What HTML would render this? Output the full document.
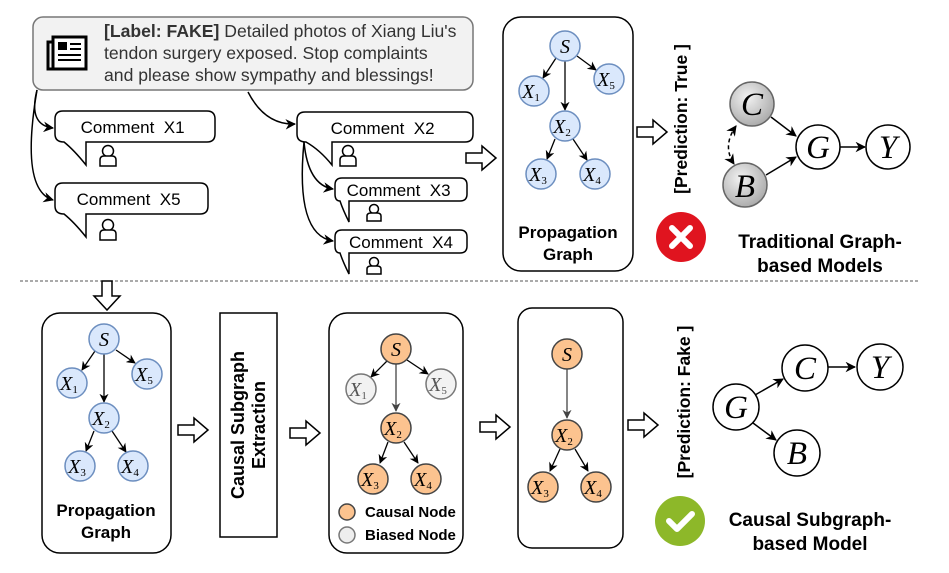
<!DOCTYPE html>
<html><head><meta charset="utf-8"><style>
html,body{margin:0;padding:0;background:#fff;}
svg{display:block;}
.t{font-family:"Liberation Sans",sans-serif;}
.m{font-family:"Liberation Serif",serif;font-style:italic;}
</style></head><body>
<svg width="949" height="573" viewBox="0 0 949 573" xmlns="http://www.w3.org/2000/svg">
<defs>
<marker id="ah" viewBox="0 0 10 10" refX="9" refY="5" markerWidth="7" markerHeight="7" orient="auto-start-reverse"><path d="M0,0 L10,5 L0,10 L3,5 z" fill="#000"/></marker>
<marker id="ahg" viewBox="0 0 10 10" refX="9" refY="5" markerWidth="7" markerHeight="7" orient="auto"><path d="M0,0 L10,5 L0,10 L3,5 z" fill="#444"/></marker>
<radialGradient id="gg" cx="40%" cy="35%" r="70%"><stop offset="0" stop-color="#f2f2f2"/><stop offset="1" stop-color="#a8a8a8"/></radialGradient>
<g id="person"><circle cx="0" cy="-5" r="5.5" fill="#fff" stroke="#000" stroke-width="1.5"/><path d="M-8,10 V4 Q-8,0 -4,0 H4 Q8,0 8,4 V10 Z" fill="#fff" stroke="#000" stroke-width="1.5"/></g>
<g id="personS"><circle cx="0" cy="-4" r="4.5" fill="#fff" stroke="#000" stroke-width="1.5"/><path d="M-7,8 V3 Q-7,0 -3,0 H3 Q7,0 7,3 V8 Z" fill="#fff" stroke="#000" stroke-width="1.5"/></g>
<g id="harrow"><path d="M0,-5 H16 V-12 L30,0 L16,12 V5 H0 Z" fill="#fff" stroke="#000" stroke-width="1.5"/></g>
</defs>

<rect x="33" y="17" width="440" height="73" rx="10" fill="#f2f2f2" stroke="#777" stroke-width="1.5"/>
<g transform="translate(47,37)">
<rect x="6" y="0" width="33" height="32" fill="#fff" stroke="#000" stroke-width="3"/>
<path d="M6,5 H1 V32 H6" fill="none" stroke="#000" stroke-width="3"/>
<rect x="11" y="5" width="9" height="8" fill="#000"/>
<line x1="23" y1="7" x2="34" y2="7" stroke="#000" stroke-width="2"/>
<line x1="23" y1="12" x2="34" y2="12" stroke="#000" stroke-width="2"/>
<line x1="11" y1="18" x2="34" y2="18" stroke="#000" stroke-width="2"/>
<line x1="11" y1="23" x2="34" y2="23" stroke="#000" stroke-width="2"/>
</g>
<text class="t" font-size="17.6" fill="#333"><tspan x="104" y="37"><tspan font-weight="bold">[Label: FAKE]</tspan> Detailed photos of Xiang Liu's</tspan><tspan x="104" y="59">tendon surgery exposed. Stop complaints</tspan><tspan x="104" y="81">and please show sympathy and blessings!</tspan></text>

<g fill="#fff" stroke="#000" stroke-width="1.5">
<path d="M63,111 H207 Q215,111 215,119 V134 Q215,142 207,142 H86 V165 Q74,150 64,142 Q55,142 55,134 V119 Q55,111 63,111 Z"/>
<path d="M63,183 H200 Q208,183 208,191 V206 Q208,214 200,214 H86 V237 Q74,222 64,214 Q55,214 55,206 V191 Q55,183 63,183 Z"/>
<path d="M305,112 H465 Q473,112 473,120 V134 Q473,142 465,142 H332 V165 Q320,150 306,142 Q297,142 297,134 V120 Q297,112 305,112 Z"/>
<path d="M342,178 H460 Q467,178 467,185 V194 Q467,201 460,201 H349 V222 Q343,210 340,201 Q335,201 335,194 V185 Q335,178 342,178 Z"/>
<path d="M342,230 H460 Q467,230 467,237 V246 Q467,253 460,253 H349 V274 Q343,262 340,253 Q335,253 335,246 V237 Q335,230 342,230 Z"/>
</g>
<text class="t" font-size="17" fill="#000" text-anchor="middle">
<tspan x="135" y="133">Comment&#160; X1</tspan>
<tspan x="131" y="205">Comment&#160; X5</tspan>
<tspan x="385" y="134">Comment&#160; X2</tspan>
<tspan x="401" y="196">Comment&#160; X3</tspan>
<tspan x="401" y="248">Comment&#160; X4</tspan>
</text>
<use href="#person" x="108" y="156"/>
<use href="#person" x="108" y="230"/>
<use href="#person" x="348" y="156"/>
<use href="#personS" x="374" y="213"/>
<use href="#personS" x="374" y="266"/>

<g fill="none" stroke="#000" stroke-width="1.5" marker-end="url(#ah)">
<path d="M37,90 Q28,125 53,128"/>
<path d="M37,90 Q20,190 53,200"/>
<path d="M248,92 Q265,125 295,124"/>
<path d="M304,142 Q308,185 333,189"/>
<path d="M304,142 Q295,235 333,241"/>
</g>

<use href="#harrow" x="466" y="158"/>

<rect x="503" y="17" width="130" height="254" rx="18" fill="#fff" stroke="#000" stroke-width="1.5"/>
<g stroke="#000" stroke-width="1.3" marker-end="url(#ah)">
<line x1="556" y1="58" x2="543" y2="78"/>
<line x1="577" y1="56" x2="596" y2="70"/>
<line x1="565" y1="61" x2="565" y2="110"/>
<line x1="555" y1="139" x2="547" y2="159"/>
<line x1="573" y1="139" x2="587" y2="160"/>
</g>
<g fill="#dae8fc" stroke="#6c8ebf" stroke-width="1.5">
<circle cx="565" cy="46" r="15"/><circle cx="534" cy="91" r="15"/><circle cx="609" cy="79" r="15"/>
<circle cx="565" cy="126" r="15"/><circle cx="541" cy="174" r="15"/><circle cx="595" cy="174" r="15"/>
</g>
<g class="m" font-size="20" fill="#000" text-anchor="middle">
<text x="565" y="53">S</text>
<text x="531" y="98">X<tspan font-size="11" font-style="normal" dy="3">1</tspan></text>
<text x="606" y="86">X<tspan font-size="11" font-style="normal" dy="3">5</tspan></text>
<text x="562" y="133">X<tspan font-size="11" font-style="normal" dy="3">2</tspan></text>
<text x="538" y="181">X<tspan font-size="11" font-style="normal" dy="3">3</tspan></text>
<text x="592" y="181">X<tspan font-size="11" font-style="normal" dy="3">4</tspan></text>
</g>
<text class="t" font-size="17" font-weight="bold" text-anchor="middle"><tspan x="568" y="238">Propagation</tspan><tspan x="568" y="260">Graph</tspan></text>

<use href="#harrow" x="637" y="132"/>
<text class="t" font-size="17.5" font-weight="bold" text-anchor="middle" transform="translate(687,119) rotate(-90)">[Prediction: True ]</text>
<circle cx="681" cy="237" r="25" fill="#e0141f"/>
<path d="M672,228 L690,246 M690,228 L672,246" stroke="#fff" stroke-width="6" stroke-linecap="round"/>

<g stroke="#000" stroke-width="1.5" fill="none">
<line x1="771" y1="117" x2="796" y2="136" marker-end="url(#ah)"/>
<line x1="766" y1="175" x2="796" y2="157" marker-end="url(#ah)"/>
<line x1="840" y1="147" x2="865" y2="147" marker-end="url(#ah)"/>
<path d="M736,126 Q722,146 734,164" stroke-dasharray="4,3" marker-end="url(#ah)" marker-start="url(#ah)"/>
</g>
<circle cx="752" cy="104" r="22" fill="url(#gg)" stroke="#666" stroke-width="1.5"/>
<circle cx="745" cy="185" r="22" fill="url(#gg)" stroke="#666" stroke-width="1.5"/>
<circle cx="818" cy="147" r="22" fill="#fff" stroke="#000" stroke-width="1.5"/>
<circle cx="888" cy="147" r="22" fill="#fff" stroke="#000" stroke-width="1.5"/>
<g class="m" font-size="33" text-anchor="middle">
<text x="752" y="115">C</text><text x="745" y="197">B</text><text x="818" y="158">G</text><text x="888" y="158">Y</text>
</g>
<text class="t" font-size="19" font-weight="bold" text-anchor="middle"><tspan x="820" y="248">Traditional Graph-</tspan><tspan x="820" y="272">based Models</tspan></text>

<line x1="20" y1="281" x2="920" y2="281" stroke="#555" stroke-width="1" stroke-dasharray="3,2"/>

<path d="M102,281 H112 V296 H120 L107,310 L94,296 H102 Z" fill="#fff" stroke="#000" stroke-width="1.5"/>

<rect x="42" y="313" width="129" height="240" rx="18" fill="#fff" stroke="#000" stroke-width="1.5"/>
<g stroke="#000" stroke-width="1.3" marker-end="url(#ah)">
<line x1="95" y1="351" x2="82" y2="370"/>
<line x1="116" y1="350" x2="135" y2="363"/>
<line x1="104" y1="354" x2="104" y2="402"/>
<line x1="94" y1="431" x2="86" y2="451"/>
<line x1="112" y1="431" x2="126" y2="452"/>
</g>
<g fill="#dae8fc" stroke="#6c8ebf" stroke-width="1.5">
<circle cx="104" cy="339" r="15"/><circle cx="72" cy="383" r="15"/><circle cx="147" cy="374" r="15"/>
<circle cx="104" cy="418" r="15"/><circle cx="80" cy="466" r="15"/><circle cx="133" cy="466" r="15"/>
</g>
<g class="m" font-size="20" text-anchor="middle">
<text x="104" y="346">S</text>
<text x="69" y="390">X<tspan font-size="11" font-style="normal" dy="3">1</tspan></text>
<text x="144" y="381">X<tspan font-size="11" font-style="normal" dy="3">5</tspan></text>
<text x="101" y="425">X<tspan font-size="11" font-style="normal" dy="3">2</tspan></text>
<text x="77" y="473">X<tspan font-size="11" font-style="normal" dy="3">3</tspan></text>
<text x="130" y="473">X<tspan font-size="11" font-style="normal" dy="3">4</tspan></text>
</g>
<text class="t" font-size="17" font-weight="bold" text-anchor="middle"><tspan x="106" y="516">Propagation</tspan><tspan x="106" y="538">Graph</tspan></text>

<use href="#harrow" x="178" y="430"/>
<rect x="220" y="313" width="57" height="224" fill="#fff" stroke="#000" stroke-width="1.5"/>
<text class="t" font-size="18" font-weight="bold" text-anchor="middle" transform="translate(248,425) rotate(-90)"><tspan x="0" y="-4">Causal Subgraph</tspan><tspan x="0" y="17">Extraction</tspan></text>
<use href="#harrow" x="290" y="433"/>

<rect x="329" y="313" width="134" height="240" rx="18" fill="#fff" stroke="#000" stroke-width="1.5"/>
<g stroke="#000" stroke-width="1.3" marker-end="url(#ah)">
<line x1="387" y1="361" x2="371" y2="377"/>
<line x1="407" y1="360" x2="428" y2="374"/>
</g>
<g stroke="#444" stroke-width="1.3"><line x1="396" y1="364" x2="396" y2="411" marker-end="url(#ahg)"/></g>
<g stroke="#000" stroke-width="1.3" marker-end="url(#ah)">
<line x1="388" y1="442" x2="380" y2="463"/>
<line x1="404" y1="442" x2="418" y2="463"/>
</g>
<g stroke="#444" stroke-width="1.5">
<circle cx="396" cy="349" r="15" fill="#fcc38f"/>
<circle cx="361" cy="389" r="15" fill="#f2f2f2" stroke="#777"/>
<circle cx="441" cy="384" r="15" fill="#f2f2f2" stroke="#777"/>
<circle cx="396" cy="428" r="15" fill="#fcc38f"/>
<circle cx="373" cy="479" r="15" fill="#fcc38f"/>
<circle cx="426" cy="479" r="15" fill="#fcc38f"/>
<circle cx="347" cy="512" r="8" fill="#fcc38f"/>
<circle cx="347" cy="535" r="8" fill="#eeeeee" stroke="#777"/>
</g>
<g class="m" font-size="20" text-anchor="middle">
<text x="396" y="356">S</text>
<text x="358" y="396" fill="#555">X<tspan font-size="11" font-style="normal" dy="3">1</tspan></text>
<text x="438" y="391" fill="#555">X<tspan font-size="11" font-style="normal" dy="3">5</tspan></text>
<text x="393" y="435">X<tspan font-size="11" font-style="normal" dy="3">2</tspan></text>
<text x="370" y="486">X<tspan font-size="11" font-style="normal" dy="3">3</tspan></text>
<text x="423" y="486">X<tspan font-size="11" font-style="normal" dy="3">4</tspan></text>
</g>
<text class="t" font-size="15" font-weight="bold"><tspan x="365" y="517">Causal Node</tspan><tspan x="365" y="540">Biased Node</tspan></text>

<use href="#harrow" x="480" y="427"/>
<rect x="518" y="308" width="105" height="240" rx="14" fill="#fff" stroke="#000" stroke-width="1.5"/>
<g stroke="#444" stroke-width="1.3"><line x1="567" y1="369" x2="567" y2="418" marker-end="url(#ahg)"/></g>
<g stroke="#000" stroke-width="1.3" marker-end="url(#ah)">
<line x1="560" y1="449" x2="550" y2="471"/>
<line x1="575" y1="449" x2="588" y2="471"/>
</g>
<g stroke="#444" stroke-width="1.5" fill="#fcc38f">
<circle cx="567" cy="354" r="15"/><circle cx="567" cy="435" r="15"/><circle cx="543" cy="487" r="15"/><circle cx="596" cy="487" r="15"/>
</g>
<g class="m" font-size="20" text-anchor="middle">
<text x="567" y="361">S</text>
<text x="564" y="442">X<tspan font-size="11" font-style="normal" dy="3">2</tspan></text>
<text x="540" y="494">X<tspan font-size="11" font-style="normal" dy="3">3</tspan></text>
<text x="593" y="494">X<tspan font-size="11" font-style="normal" dy="3">4</tspan></text>
</g>

<use href="#harrow" x="628" y="425"/>
<text class="t" font-size="17.5" font-weight="bold" text-anchor="middle" transform="translate(690,402) rotate(-90)">[Prediction: Fake ]</text>
<circle cx="680" cy="521" r="25" fill="#8db829"/>
<path d="M669,521 L677,529 L692,514" fill="none" stroke="#fff" stroke-width="6" stroke-linecap="round" stroke-linejoin="round"/>

<g stroke="#000" stroke-width="1.5">
<line x1="755" y1="395" x2="783" y2="379" marker-end="url(#ah)"/>
<line x1="753" y1="423" x2="776" y2="440" marker-end="url(#ah)"/>
<line x1="828" y1="367" x2="855" y2="367" marker-end="url(#ah)"/>
</g>
<g fill="#fff" stroke="#000" stroke-width="1.5">
<circle cx="736" cy="407" r="23"/><circle cx="805" cy="368" r="23"/><circle cx="880" cy="367" r="23"/><circle cx="797" cy="453" r="23"/>
</g>
<g class="m" font-size="33" text-anchor="middle">
<text x="736" y="418">G</text><text x="805" y="379">C</text><text x="880" y="378">Y</text><text x="797" y="464">B</text>
</g>
<text class="t" font-size="19" font-weight="bold" text-anchor="middle"><tspan x="810" y="526">Causal Subgraph-</tspan><tspan x="810" y="550">based Model</tspan></text>
</svg>
</body></html>
